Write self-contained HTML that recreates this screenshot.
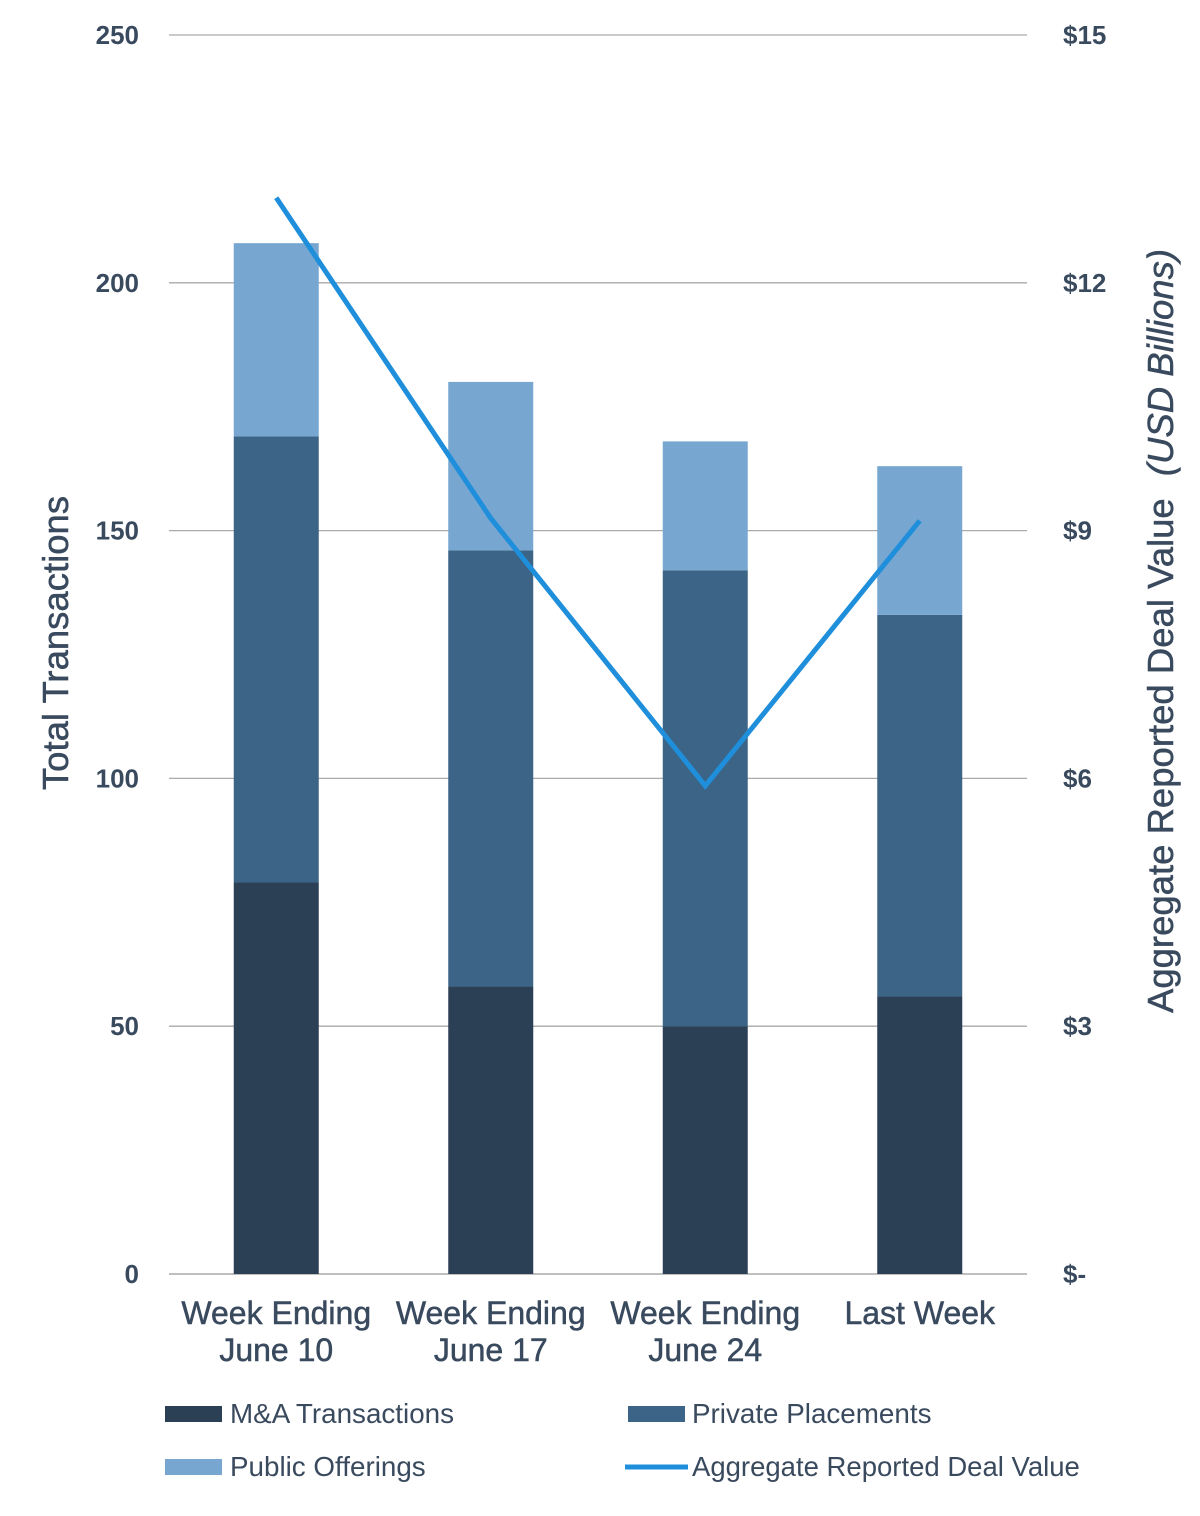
<!DOCTYPE html>
<html><head><meta charset="utf-8"><style>
body{margin:0;background:#fff;}
svg text{font-family:"Liberation Sans",sans-serif;fill:#3a4a5e;}
</style></head><body>
<svg width="1200" height="1511" viewBox="0 0 1200 1511">
<g id="grid"></g><g id="bars"></g><g id="line"></g><g id="labels"></g>
<text transform="translate(68,643) rotate(-90)" text-anchor="middle" font-size="36.5" stroke="#3a4a5e" stroke-width="0.5">Total Transactions</text>
<text transform="translate(1173,631) rotate(-90)" text-anchor="middle" font-size="36.5" stroke="#3a4a5e" stroke-width="0.5">Aggregate Reported Deal Value <tspan font-style="italic" dx="12">(USD Billions)</tspan></text>
<g>
<rect x="165" y="1406" width="57" height="16" fill="#2b3f55"/>
<text x="230" y="1423" font-size="27.8">M&amp;A Transactions</text>
<rect x="628" y="1406" width="57" height="16" fill="#3b6486"/>
<text x="692" y="1423" font-size="27.8">Private Placements</text>
<rect x="165" y="1459" width="57" height="16" fill="#77a6d1"/>
<text x="230" y="1476" font-size="27.8">Public Offerings</text>
<line x1="625" y1="1467" x2="688" y2="1467" stroke="#1f8fdb" stroke-width="5"/>
<text x="692" y="1476" font-size="27.5">Aggregate Reported Deal Value</text>
</g>
</svg>
<script>
const categories=[["Week Ending","June 10"],["Week Ending","June 17"],["Week Ending","June 24"],["Last Week"]];
const maValues=[79,58,50,56];
const ppValues=[90,88,92,77];
const poValues=[39,34,26,30];
const dealValues=[13.03,9.15,5.91,9.12];
const leftTicks=[0,50,100,150,200,250];
const rightTicks=["$-","$3","$6","$9","$12","$15"];
const rightTickValues=[0,3,6,9,12,15];
const NS="http://www.w3.org/2000/svg";
const L=169,R=1027,T=35,B=1274;
const y=v=>B-(v/250)*(B-T);
const y2=v=>B-(v/15)*(B-T);
const bw=(R-L)/categories.length;
const cx=i=>L+bw*(i+0.5);
function mk(tag,attrs,parent){const e=document.createElementNS(NS,tag);for(const k in attrs)e.setAttribute(k,attrs[k]);parent.appendChild(e);return e;}
const grid=document.getElementById('grid'),bars=document.getElementById('bars'),line=document.getElementById('line'),labels=document.getElementById('labels');
leftTicks.forEach((t,i)=>{
 const g=mk('line',{x1:L,x2:R,y1:y(t),y2:y(t),stroke:i==0?'#999':'#aaa','stroke-width':1.3},grid);
 
 
 const tl=mk('text',{x:139,y:y(t)+9,'text-anchor':'end','font-size':26,'font-weight':'bold'},labels);
 tl.textContent=t;
 
 
});
rightTickValues.forEach((v,i)=>{
 const tl=mk('text',{x:1063,y:y2(v)+9,'font-size':26,'font-weight':'bold'},labels);
 tl.textContent=rightTicks[i];
 
 
});
categories.forEach((c,i)=>{
 const x=cx(i)-42.5;
 const segs=[[0,maValues[i],'#2b3f55','bar-ma'],[maValues[i],maValues[i]+ppValues[i],'#3b6486','bar-pp'],[maValues[i]+ppValues[i],maValues[i]+ppValues[i]+poValues[i],'#77a6d1','bar-po']];
 segs.forEach(s=>{
  const r=mk('rect',{x:x,y:y(s[1]),width:85,height:y(s[0])-y(s[1]),fill:s[2]},bars);
  
  
 });
 c.forEach((ln,j)=>{
  const t=mk('text',{x:cx(i),y:1324+j*37,'text-anchor':'middle','font-size':32,stroke:'#3a4a5e','stroke-width':0.5},labels);
  t.textContent=ln;
  
  
 });
});
const pl=mk('polyline',{points:dealValues.map((v,i)=>cx(i)+','+y2(v)).join(' '),fill:'none',stroke:'#1f8fdb','stroke-width':5},line);


</script>
</body></html>
